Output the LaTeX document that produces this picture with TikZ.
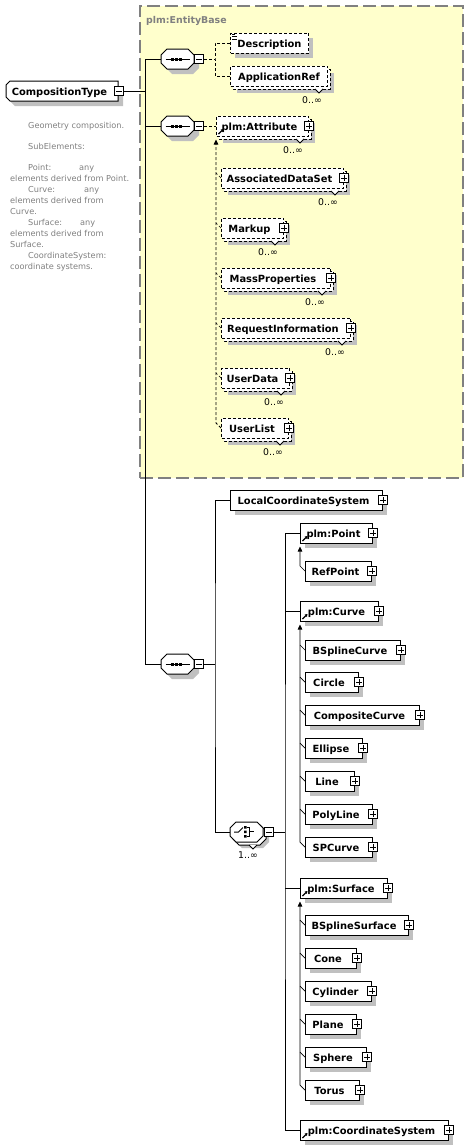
\documentclass[tikz,border=0pt]{standalone}
\usepackage{fontspec}
\setmainfont{DejaVu Sans}
\usetikzlibrary{arrows.meta}
\definecolor{shadowgray}{RGB}{192,192,192}
\definecolor{basefill}{RGB}{255,255,204}
\definecolor{basegray}{RGB}{128,128,128}
\definecolor{notegray}{RGB}{128,128,128}
\pgfdeclarelayer{bg}
\pgfsetlayers{bg,main}
\tikzset{
  shd/.style={fill=shadowgray, draw=none},
  ebox/.style={draw=black, fill=white, line width=1pt, minimum height=20pt, inner sep=0pt, anchor=west,
    font=\fontsize{9.9}{12}\selectfont\bfseries, text height=10pt, text depth=2pt},
  opt/.style={dash pattern=on 3pt off 2pt},
  bbox/.style={draw=black, fill=white, line width=1pt},
  btn/.style={draw=black, fill=white, line width=1pt, minimum size=9pt, inner sep=0pt},
  sign/.style={line width=1pt},
  conn/.style={draw=black, line width=1pt},
  oconn/.style={conn, dash pattern=on 3pt off 2pt},
  occ/.style={font=\fontsize{9.3}{11}\selectfont, inner sep=0pt},
  note/.style={font=\fontsize{8.2}{10}\selectfont, text=notegray, inner sep=0pt, anchor=base west},
  subst/.style={draw=black, line width=0.7pt},
  uptip/.style={-{Triangle[length=5pt,width=4.5pt]}},
  hub/.style={inner sep=0pt, minimum height=20pt},
}
\newcommand\Octo[5]{\path[#1] (#2+6,#4) -- (#3-6,#4) -- (#3,#4+6) -- (#3,#5-6) -- (#3-6,#5) -- (#2+6,#5) -- (#2,#5-6) -- (#2,#4+6) -- cycle;}
\newcommand\PlusBtn[2]{%
  \node[btn] (#1-b) at (#2) {};
  \draw[sign] ([xshift=-3pt]#1-b.center) -- ([xshift=3pt]#1-b.center);
  \draw[sign] ([yshift=-3pt]#1-b.center) -- ([yshift=3pt]#1-b.center);}
\newcommand\MinusBtn[2]{%
  \node[btn] (#1-b) at (#2) {};
  \draw[sign] ([xshift=-3pt]#1-b.center) -- ([xshift=3pt]#1-b.center);}
\newcommand\Elem[7]{%
  \pgfmathsetmacro\elW{#4-#3}
  \fill[shd] (#3+5,#5-5) rectangle (#4+5,#5+15);
  \node[ebox,#1,minimum width=\elW pt] (#2) at (#3,#5) {#6\ifx p#7\kern6pt\fi};
  \ifx p#7\PlusBtn{#2}{#2.east}\fi}
\newcommand\Multi[8]{%
  \pgfmathsetmacro\elW{#4-#3}
  \fill[shd] (#3+7,#5-3) rectangle (#4+7,#5+17);
  \draw[bbox,#1] (#3+3,#5-7) rectangle (#4+3,#5+13);
  \draw[bbox,line width=0.8pt] (#4-12,#5+13) -- (#4-8,#5+17) -- (#4-4,#5+13);
  \node[ebox,#1,minimum width=\elW pt] (#2) at (#3,#5) {#6\ifx p#7\kern6pt\fi};
  \ifx p#7\PlusBtn{#2}{#2.east}\fi
  \node[occ] (#2-occ) at (#4-15,#5+24) {#8};}
\newcommand\RefIcon[1]{\draw[line width=1.1pt,-{Triangle[length=2.5pt,width=3pt]}] ([xshift=2.5pt,yshift=2.5pt]#1.south west) -- ++(5,-5);}
\newcommand\SeqNode[4]{%
  \Octo{shd}{#2+5}{#3+5}{#4-5}{#4+15}
  \Octo{bbox}{#2}{#3}{#4-10}{#4+10}
  \pgfmathsetmacro\elW{#3-#2}
  \node[hub, minimum width=\elW pt, anchor=west] (#1) at (#2,#4) {};
  \draw[line width=1pt] (#2+4.5,#4) -- (#3-4,#4);
  \pgfmathsetmacro\elC{(#2+#3)/2}
  \foreach \dx in {-5,-1,3} \fill (\elC+\dx-1.5,#4-1.5) rectangle (\elC+\dx+1.5,#4+1.5);
  \MinusBtn{#1}{#3+5,#4}}
\begin{document}
\begin{tikzpicture}[x=1pt,y=-1pt]
\useasboundingbox (0,0) rectangle (468,1146);
\begin{pgfonlayer}{bg}
\fill[white] (0,0) rectangle (468,1146);
\node[draw=basegray, fill=basefill, line width=1.5pt, dash pattern=on 13pt off 5pt, minimum width=323pt, minimum height=472pt, anchor=north west, inner sep=0pt] (base) at (139,5) {};
\end{pgfonlayer}
\node[font=\fontsize{9.4}{11}\selectfont\bfseries, text=basegray, anchor=base west, inner sep=0pt] (baselabel) at (146,23) {plm:EntityBase};

% root element
\fill[shd] (15,86) -- (123,86) -- (123,106) -- (15,106) -- (11,102) -- (11,90) -- cycle;
\draw[bbox] (10,81) -- (118,81) -- (118,101) -- (10,101) -- (6,97) -- (6,85) -- cycle;
\node[ebox, draw=none, fill=none, minimum width=112pt] (CT) at (6,91) {CompositionType\kern6pt};
\MinusBtn{CT}{CT.east}

% annotation
\node[note] (n1) at (28,128) {Geometry composition.};
\node[note] (n2) at (28,149) {SubElements:};
\node[note] (n3) at (28,170) {Point:};
\node[note] (n3a) at (79,170) {any};
\node[note] (n4) at (10,181) {elements derived from Point.};
\node[note] (n5) at (28,192) {Curve:};
\node[note] (n5a) at (84,192) {any};
\node[note] (n6) at (10,203) {elements derived from};
\node[note] (n7) at (10,214) {Curve.};
\node[note] (n8) at (28,225) {Surface:};
\node[note] (n8a) at (80,225) {any};
\node[note] (n9) at (10,236) {elements derived from};
\node[note] (n10) at (10,247) {Surface.};
\node[note] (n11) at (28,258) {CoordinateSystem:};
\node[note] (n12) at (10,269) {coordinate systems.};

% sequences
\SeqNode{seq1}{161}{194}{59}
\SeqNode{seq2}{161}{194}{126}
\SeqNode{seq3}{161}{194}{664}

% EntityBase content
\Elem{opt}{Description}{230}{308}{43}{Description}{n}
\draw[line width=0.8pt] (232,34.3) -- (235,34.3) (232,36.6) -- (237,36.6) (232,38.9) -- (237,38.9);
\Multi{opt}{ApplicationRef}{230}{327}{76}{ApplicationRef}{n}{0..∞}
\Multi{opt}{Attribute}{216}{308}{126}{plm:Attribute}{p}{0..∞}
\RefIcon{Attribute}
\Multi{opt}{AssociatedDataSet}{221}{343}{178}{AssociatedDataSet}{p}{0..∞}
\Multi{opt}{Markup}{221}{283}{228}{Markup}{p}{0..∞}
\Multi{opt}{MassProperties}{221}{330}{278}{MassProperties}{p}{0..∞}
\Multi{opt}{RequestInformation}{221}{350}{328}{RequestInformation}{p}{0..∞}
\Multi{opt}{UserData}{221}{289}{378}{UserData}{p}{0..∞}
\Multi{opt}{UserList}{221}{288}{428}{UserList}{p}{0..∞}

% lower part
\Elem{}{LCS}{230}{382}{500}{LocalCoordinateSystem}{p}
% choice
\Octo{shd}{236}{269}{828}{848}
\Octo{bbox}{233}{266}{825}{845}
\draw[bbox,line width=0.8pt] (249,845) -- (253,849) -- (257,845);
\Octo{bbox}{230}{263}{822}{842}
\node[hub, minimum width=33pt, anchor=west] (choice) at (230,832) {};
\draw[line width=1pt] (234,832) -- (238.5,832) -- (243,827.5);
\fill (244,826) rectangle (246.5,828.5) (244,830.6) rectangle (246.5,833.1) (244,835.2) rectangle (246.5,837.7);
\draw[line width=0.9pt] (246.5,827.2) -- (249.5,827.2) -- (249.5,836.4) -- (246.5,836.4) (249.5,831.8) -- (253.5,831.8);
\MinusBtn{choice}{269,832}
\node[occ] (choice-occ) at (248,855) {1..∞};

\Elem{}{Point}{300}{372}{533}{plm:Point}{p}
\RefIcon{Point}
\Elem{}{RefPoint}{305}{371}{571}{RefPoint}{p}
\Elem{}{Curve}{300}{378}{611}{plm:Curve}{p}
\RefIcon{Curve}
\Elem{}{BSplineCurve}{305}{400}{650}{BSplineCurve}{p}
\Elem{}{Circle}{305}{358}{682}{Circle}{p}
\Elem{}{CompositeCurve}{305}{419}{715}{CompositeCurve}{p}
\Elem{}{Ellipse}{305}{362}{748}{Ellipse}{p}
\Elem{}{Line}{305}{354}{781}{Line}{p}
\Elem{}{PolyLine}{305}{372}{814}{PolyLine}{p}
\Elem{}{SPCurve}{305}{372}{847}{SPCurve}{p}
\Elem{}{Surface}{300}{387}{888}{plm:Surface}{p}
\RefIcon{Surface}
\Elem{}{BSplineSurface}{305}{408}{925}{BSplineSurface}{p}
\Elem{}{Cone}{305}{356}{958}{Cone}{p}
\Elem{}{Cylinder}{305}{371}{991}{Cylinder}{p}
\Elem{}{Plane}{305}{356}{1024}{Plane}{p}
\Elem{}{Sphere}{305}{366}{1057}{Sphere}{p}
\Elem{}{Torus}{305}{359}{1090}{Torus}{p}
\Elem{}{CoordSys}{300}{448}{1130}{plm:CoordinateSystem}{p}
\RefIcon{CoordSys}

% connectors
\begin{pgfonlayer}{bg}
\coordinate (t1) at (145,59);
\coordinate (t3) at (145,664);
\draw[conn] (CT-b.east) -- (CT-b.east -| t1);
\draw[conn] (seq1.west) -- (t1) -- (t3) -- (seq3.west);
\draw[conn] (seq2.west) -- (seq2.west -| t1);
\coordinate (j1) at (215,59);
\draw[oconn] (seq1-b.east) -- (j1);
\draw[oconn] (Description.west) -| (j1) |- (ApplicationRef.west);
\draw[oconn] (seq2-b.east) -- (Attribute.west);
\draw[oconn, line width=0.8pt, uptip] (UserList.west) -- ++(-5,-5) -- ([yshift=-3pt]Attribute.south west);
\foreach \m in {AssociatedDataSet,Markup,MassProperties,RequestInformation,UserData}
  \draw[oconn, line width=0.7pt] (\m.west) -- ++(-5,-5);
\coordinate (j3) at (215,664);
\draw[conn] (seq3-b.east) -- (j3);
\draw[conn] (LCS.west) -| (j3) |- (choice.west);
\coordinate (j4) at (285,832);
\draw[conn] (choice-b.east) -- (j4);
\draw[conn] (Point.west) -| (j4) |- (CoordSys.west);
\draw[conn] (Curve.west) -- (Curve.west -| j4);
\draw[conn] (Surface.west) -- (Surface.west -| j4);
\draw[subst, uptip] (RefPoint.west) -- ++(-5,-5) -- ([yshift=-3pt]Point.south west);
\draw[subst, uptip] (SPCurve.west) -- ++(-5,-5) -- ([yshift=-3pt]Curve.south west);
\foreach \m in {BSplineCurve,Circle,CompositeCurve,Ellipse,Line,PolyLine}
  \draw[subst] (\m.west) -- ++(-5,-5);
\draw[subst, uptip] (Torus.west) -- ++(-5,-5) -- ([yshift=-3pt]Surface.south west);
\foreach \m in {BSplineSurface,Cone,Cylinder,Plane,Sphere}
  \draw[subst] (\m.west) -- ++(-5,-5);
\end{pgfonlayer}
\end{tikzpicture}
\end{document}
